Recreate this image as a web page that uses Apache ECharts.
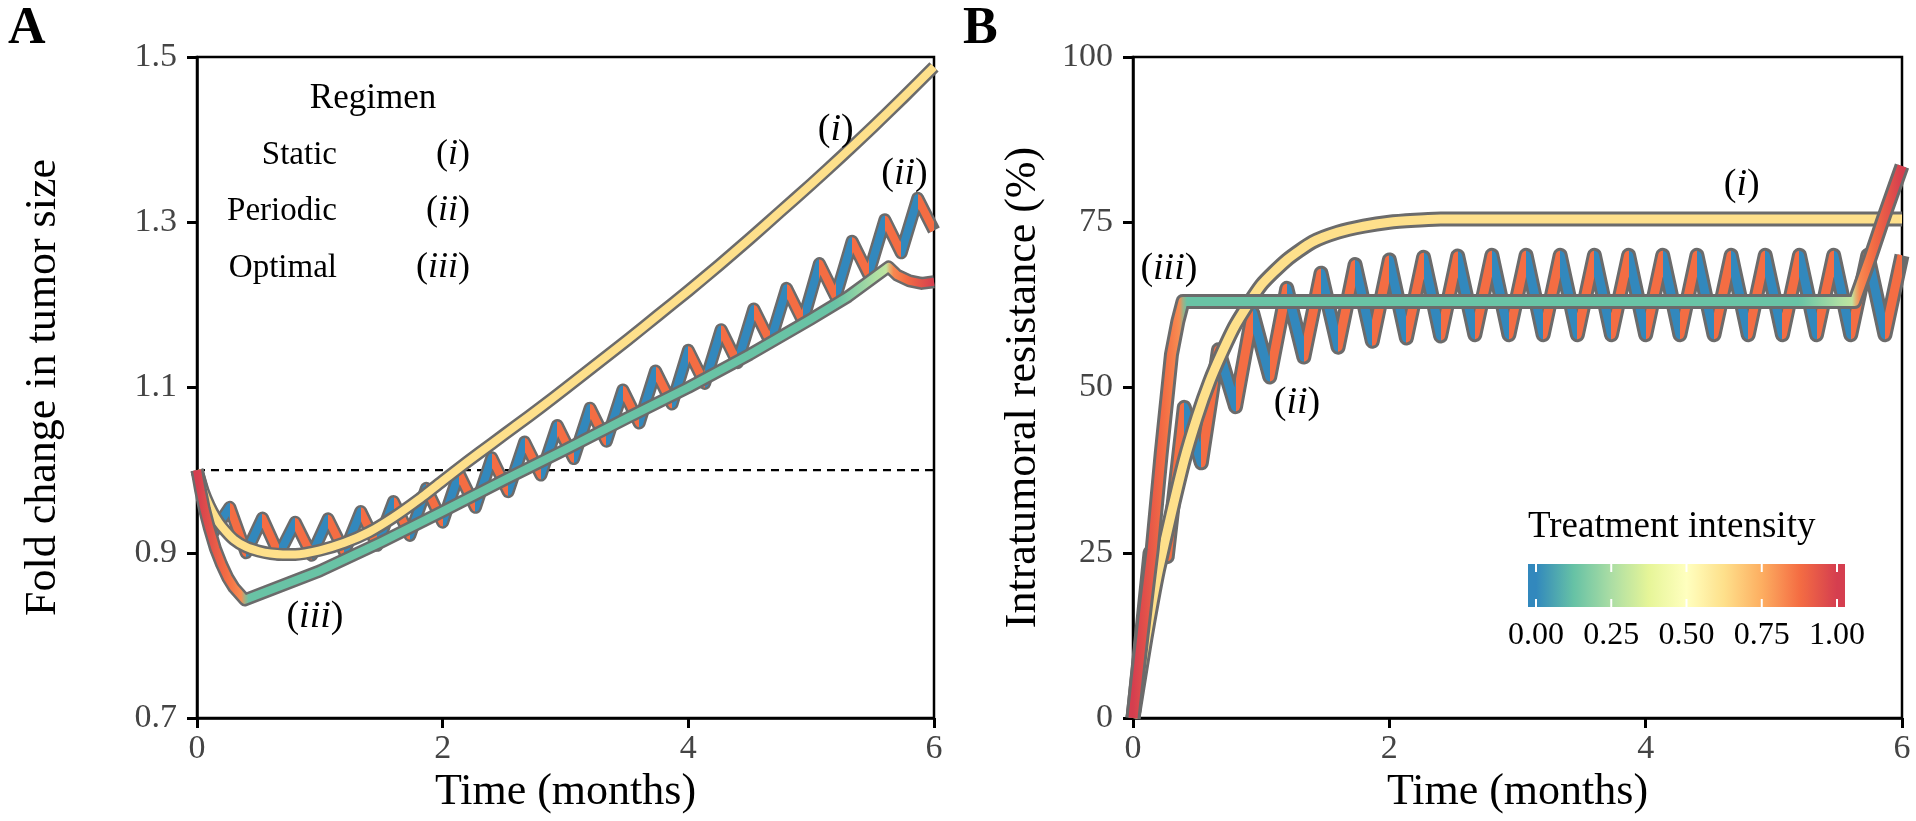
<!DOCTYPE html>
<html><head><meta charset="utf-8">
<script src="https://cdn.jsdelivr.net/npm/echarts@6/dist/echarts.min.js"></script>
<style>html,body{margin:0;padding:0;background:#fff;}#c{width:1916px;height:821px;}</style>
</head><body><div id="c"></div>
<script>
// ---------------- data ----------------
const timeTicks = [0, 2, 4, 6];
const sizeTicks = [0.7, 0.9, 1.1, 1.3, 1.5];
const resistTicks = [0, 25, 50, 75, 100];
const intensityTicks = [0, 0.25, 0.5, 0.75, 1];
const intensityTickLabels = ['0.00', '0.25', '0.50', '0.75', '1.00'];
const regimenNames = ['Static', 'Periodic', 'Optimal'];
const regimenTags = ['i', 'ii', 'iii'];
const referenceTime = [0, 6];
const referenceSize = [1, 1];

// (i) static regimen
const staticTime = [0,0.05,0.1,0.15,0.2,0.3,0.4,0.5,0.6,0.7,0.8,1.0,1.2,1.4,1.6,1.8,2.0,2.2,2.4,2.6,2.8,3.0,3.25,3.5,3.75,4.0,4.25,4.5,4.75,5.0,5.25,5.5,5.75,6.0];
const staticSize = [1.0,0.975,0.957,0.943,0.932,0.916,0.907,0.902,0.899,0.898,0.898,0.903,0.912,0.925,0.943,0.964,0.987,1.01,1.032,1.054,1.076,1.099,1.128,1.157,1.187,1.217,1.248,1.28,1.313,1.346,1.38,1.415,1.451,1.488];
const staticResist = [0,6,12,17.5,22.5,31,39,45.5,51,55.5,59.5,65.5,69.3,72,73.5,74.4,75,75.3,75.5,75.5,75.5,75.5,75.5,75.5,75.5,75.5,75.5,75.5,75.5,75.5,75.5,75.5,75.5,75.5];
const staticIntensity = 0.625;

// (ii) periodic regimen (switch points)
const periodicTime = [0,0.133,0.267,0.4,0.533,0.667,0.8,0.933,1.067,1.2,1.333,1.467,1.6,1.733,1.867,2.0,2.133,2.267,2.4,2.533,2.667,2.8,2.933,3.067,3.2,3.333,3.467,3.6,3.733,3.867,4.0,4.133,4.267,4.4,4.533,4.667,4.8,4.933,5.067,5.2,5.333,5.467,5.6,5.733,5.867,6.0];
const periodicSize = [1.0,0.925,0.955,0.9,0.942,0.898,0.937,0.897,0.941,0.901,0.95,0.909,0.962,0.921,0.978,0.937,0.996,0.955,1.015,0.974,1.034,0.994,1.054,1.014,1.075,1.035,1.097,1.057,1.12,1.08,1.145,1.105,1.17,1.13,1.195,1.155,1.22,1.18,1.25,1.21,1.277,1.237,1.303,1.263,1.329,1.29];
const periodicResist = [0,25,24.4,47,38.6,55.7,47.1,61.3,51.6,65,54.6,67.3,56.1,68.6,57,69.3,57.5,69.7,57.8,69.9,58,70,58,70,58,70,58,70,58,70,58,70,58,70,58,70,58,70,58,70,58,70,58,70,58,70];
const periodicOnIntensity = 0.875;
const periodicOffIntensity = 0;

// (iii) optimal regimen
const optimalTimeA = [0,0.03,0.06,0.1,0.15,0.2,0.25,0.3,0.39,1.0,1.5,2.0,2.5,3.0,3.5,4.0,4.5,5.0,5.3,5.63,5.7,5.8,5.9,6.0];
const optimalSize = [1.0,0.975,0.953,0.93,0.905,0.886,0.87,0.858,0.843,0.878,0.913,0.95,0.988,1.025,1.063,1.1,1.14,1.183,1.21,1.246,1.236,1.229,1.226,1.228];
const optimalTimeB = [0,0.05,0.1,0.15,0.22,0.3,0.35,0.39,5.63,5.75,5.85,5.95,6.0];
const optimalResist = [0,9,17.5,25.5,40,55,60,63,63,69.5,75.3,80.8,83.5];
const optimalIntensityTime = [0,0.39,0.39,5.2,5.63,5.63,6.0];
const optimalIntensity = [1.0,0.8,0.13,0.13,0.3,0.8,1.0];

// ---------------- styling helpers ----------------
const F = '"Liberation Serif","Times New Roman",serif';
const SPECTRAL = ['#3288BD','#66C2A5','#ABDDA4','#E6F598','#FFFFBF','#FEE08B','#FDAE61','#F46D43','#D53E4F'];
const OUTLINE = '#6b6b6b';
function hex2rgb(h){return [parseInt(h.substr(1,2),16),parseInt(h.substr(3,2),16),parseInt(h.substr(5,2),16)];}
function spectral(v){
  v = Math.max(0, Math.min(1, v));
  const p = v * (SPECTRAL.length - 1), i = Math.min(Math.floor(p), SPECTRAL.length - 2), f = p - i;
  const a = hex2rgb(SPECTRAL[i]), b = hex2rgb(SPECTRAL[i+1]);
  return 'rgb(' + a.map((c,k)=>Math.round(c + (b[k]-c)*f)).join(',') + ')';
}
function intensityAt(t){
  for (let i = optimalIntensityTime.length - 2; i >= 0; i--) {
    const t0 = optimalIntensityTime[i], t1 = optimalIntensityTime[i+1];
    if (t >= t0 && t1 > t0) {
      const f = Math.min(1, (t - t0) / (t1 - t0));
      return optimalIntensity[i] + (optimalIntensity[i+1] - optimalIntensity[i]) * f;
    }
  }
  return optimalIntensity[0];
}
const optimalColors = [];
for (let k = 0; k <= 240; k++) optimalColors.push(spectral(intensityAt(k * 6 / 240)));
const periodicPieces = [];
for (let i = 0; i < periodicTime.length - 1; i++) {
  const piece = { gte: periodicTime[i], color: spectral(i % 2 === 0 ? periodicOnIntensity : periodicOffIntensity) };
  if (i === periodicTime.length - 2) piece.lte = periodicTime[i+1]; else piece.lt = periodicTime[i+1];
  periodicPieces.push(piece);
}

function zip(xs, ys){ return xs.map((x,i)=>[x, ys[i]]); }
function line(gi, xs, ys, width, color, extra){
  const s = { type:'line', xAxisIndex:gi, yAxisIndex:gi, data: zip(xs, ys), symbol:'none', showSymbol:false,
    silent:true, animation:false, smooth:false, clip:true,
    lineStyle: { width: width, cap:'butt', join:'round' } };
  if (color) s.lineStyle.color = color;
  return Object.assign(s, extra || {});
}
function xAxis(gi){
  return { type:'value', gridIndex:gi, min:0, max:6, interval:2,
    name:'Time (months)', nameLocation:'middle', nameGap:50,
    nameTextStyle:{ fontFamily:F, fontSize:44, color:'#000' },
    axisLine:{ show:true, onZero:false, lineStyle:{ color:'#000', width:2.5 } },
    axisTick:{ show:true, length:10, lineStyle:{ color:'#000', width:3 } },
    axisLabel:{ fontFamily:F, fontSize:34, color:'#444', margin:14 },
    splitLine:{ show:false } };
}
function yAxis(gi, min, max, interval, name, gap, fmt){
  return { type:'value', gridIndex:gi, min:min, max:max, interval:interval,
    name:name, nameLocation:'middle', nameRotate:90, nameGap:gap,
    nameTextStyle:{ fontFamily:F, fontSize:44, color:'#000' },
    axisLine:{ show:true, onZero:false, lineStyle:{ color:'#000', width:2.5 } },
    axisTick:{ show:true, length:10, lineStyle:{ color:'#000', width:3 } },
    axisLabel:{ fontFamily:F, fontSize:34, color:'#444', margin:20, formatter: fmt },
    splitLine:{ show:false } };
}

const series = [
  // panel A
  line(0, referenceTime, referenceSize, 2, '#000', { lineStyle:{ width:2.2, color:'#000', type:[8,6] } }),
  line(0, periodicTime, periodicSize, 13, OUTLINE),
  line(0, periodicTime, periodicSize, 8, null),
  line(0, staticTime, staticSize, 13, OUTLINE, { smooth:0.2 }),
  line(0, staticTime, staticSize, 8, spectral(staticIntensity), { smooth:0.2 }),
  line(0, optimalTimeA, optimalSize, 13, OUTLINE),
  line(0, optimalTimeA, optimalSize, 8, null),
  // panel B
  line(1, periodicTime, periodicResist, 15, OUTLINE),
  line(1, periodicTime, periodicResist, 9, null),
  line(1, staticTime, staticResist, 15, OUTLINE, { smooth:0.2 }),
  line(1, staticTime, staticResist, 9, spectral(staticIntensity), { smooth:0.2 }),
  line(1, optimalTimeB, optimalResist, 15, OUTLINE),
  line(1, optimalTimeB, optimalResist, 9, null)
];

const chart = echarts.init(document.getElementById('c'), null, { renderer:'canvas' });
chart.setOption({
  backgroundColor:'#fff',
  animation:false,
  grid:[
    { left:197, right:982, top:57, bottom:103, show:true, borderColor:'#000', borderWidth:2.5, containLabel:false },
    { left:1133, right:14, top:57, bottom:103, show:true, borderColor:'#000', borderWidth:2.5, containLabel:false }
  ],
  xAxis:[ xAxis(0), xAxis(1) ],
  yAxis:[
    yAxis(0, sizeTicks[0], sizeTicks[sizeTicks.length-1], 0.2, 'Fold change in tumor size', 132, v => v.toFixed(1)),
    yAxis(1, resistTicks[0], resistTicks[resistTicks.length-1], 25, 'Intratumoral resistance (%)', 88, v => String(v))
  ],
  visualMap:[
    { type:'piecewise', show:false, dimension:0, seriesIndex:[2, 8], pieces: periodicPieces },
    { type:'continuous', show:false, dimension:0, seriesIndex:[6, 12], min:0, max:6, inRange:{ color: optimalColors } }
  ],
  series: series
});

// ---------------- annotations & colour bar ----------------
function tagText(tag){ return '{p|(}{i|' + tag + '}{p|)}'; }
function tagRich(size){
  return { p:{ fontFamily:F, fontSize:size, fill:'#000' }, i:{ fontFamily:F, fontSize:size, fontStyle:'italic', fill:'#000' } };
}
const g = [];
function txt(x, y, text, size, align, extra){
  const st = Object.assign({ text:text, x:x, y:y, fontFamily:F, fontSize:size, fill:'#000', align:align, verticalAlign:'middle', textAlign:align, textVerticalAlign:'middle' }, extra || {});
  g.push({ type:'text', silent:true, z:100, style: st });
}
// panel letters
txt(8, 30, 'A', 52, 'left', { fontWeight:'bold' });
txt(963, 30, 'B', 52, 'left', { fontWeight:'bold' });
// regimen legend in panel A
txt(373, 99, 'Regimen', 35, 'center');
const legendY = [155, 211, 268];
regimenNames.forEach((n, i) => {
  txt(337, legendY[i], n, 33, 'right');
  txt(470, legendY[i], tagText(regimenTags[i]), 36, 'right', { rich: tagRich(36) });
});
// curve labels
const labelPosA = [[5.2, 1.412], [5.76, 1.358], [0.96, 0.822]];
const labelPosB = [[4.75, 80.6], [1.28, 47.6], [0.28, 67.9]];
regimenTags.forEach((tag, i) => {
  const pa = chart.convertToPixel({ gridIndex:0 }, labelPosA[i]);
  txt(pa[0], pa[1], tagText(tag), 38, 'center', { rich: tagRich(38) });
  const pb = chart.convertToPixel({ gridIndex:1 }, labelPosB[i]);
  txt(pb[0], pb[1], tagText(tag), 38, 'center', { rich: tagRich(38) });
});
// colour bar
const barX = 1528, barY = 564, barW = 317, barH = 43, barPad = 8;
const stops = [{ offset:0, color:spectral(0) }];
for (let k = 0; k <= 40; k++) {
  const v = k / 40;
  stops.push({ offset:(barPad + v * (barW - 2*barPad)) / barW, color:spectral(v) });
}
stops.push({ offset:1, color:spectral(1) });
g.push({ type:'rect', silent:true, z:90, shape:{ x:barX, y:barY, width:barW, height:barH },
  style:{ fill: new echarts.graphic.LinearGradient(0, 0, 1, 0, stops) } });
intensityTicks.forEach((v, i) => {
  const x = barX + barPad + v * (barW - 2*barPad);
  g.push({ type:'line', silent:true, z:95, shape:{ x1:x, y1:barY, x2:x, y2:barY + 8 }, style:{ stroke:'#fff', lineWidth:2 } });
  g.push({ type:'line', silent:true, z:95, shape:{ x1:x, y1:barY + barH - 8, x2:x, y2:barY + barH }, style:{ stroke:'#fff', lineWidth:2 } });
  txt(x, 636, intensityTickLabels[i], 32, 'center');
});
txt(barX, 527, 'Treatment intensity', 37, 'left');
chart.setOption({ graphic: g });
</script></body></html>
